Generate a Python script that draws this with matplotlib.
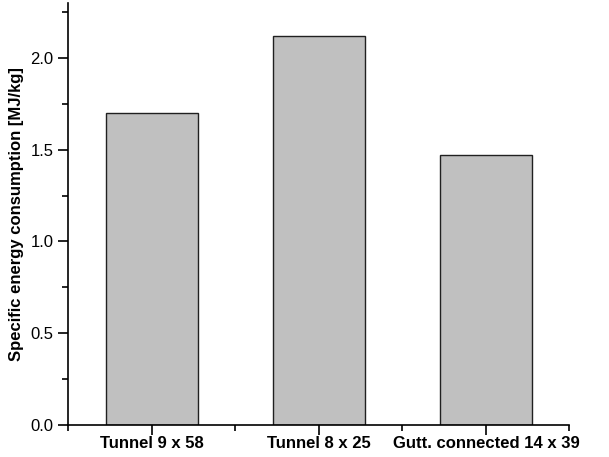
import matplotlib
matplotlib.use("Agg")
import matplotlib.pyplot as plt
from matplotlib.ticker import MultipleLocator

# Bar chart of specific energy consumption per dryer configuration
categories = ["Tunnel 9 x 58", "Tunnel 8 x 25", "Gutt. connected 14 x 39"]
energy = [1.70, 2.12, 1.47]

plt.rcParams['font.family'] = ['Liberation Sans', 'DejaVu Sans']

fig = plt.figure(figsize=(6.09, 4.57), dpi=100)
ax = fig.add_axes([0.112, 0.071, 0.823, 0.922])

pos = list(range(1, len(categories) + 1))
ax.bar(pos, energy, width=0.55, color='#c0c0c0', edgecolor='#202020', linewidth=1.0)

ax.set_xlim(0.5, 3.5)
ax.set_ylim(0, 2.3)
ax.set_xticks(pos)
ax.set_xticklabels(categories, fontsize=12, fontweight='bold')
ax.set_xticks([0.5, 1.5, 2.5, 3.5], minor=True)
ax.yaxis.set_major_locator(MultipleLocator(0.5))
ax.yaxis.set_minor_locator(MultipleLocator(0.25))
ax.yaxis.set_major_formatter(plt.FormatStrFormatter('%.1f'))
ax.tick_params(axis='both', which='major', direction='out', length=7, width=1.2, labelsize=12)
ax.tick_params(axis='x', which='major', pad=1)
ax.tick_params(axis='both', which='minor', direction='out', length=4, width=1.2)
ax.set_ylabel("Specific energy consumption [MJ/kg]", fontsize=12, fontweight='bold', labelpad=5)

ax.spines['top'].set_visible(False)
ax.spines['right'].set_visible(False)
ax.spines['left'].set_linewidth(1.2)
ax.spines['bottom'].set_linewidth(1.2)

fig.savefig("out.png", dpi=100)
